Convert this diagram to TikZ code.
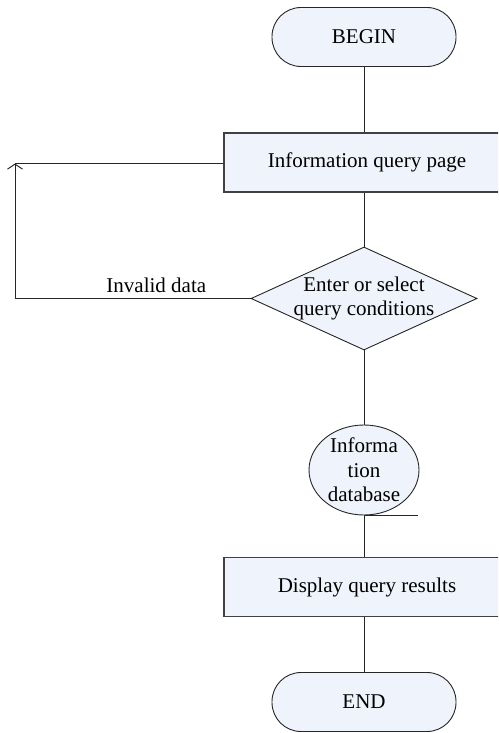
\documentclass[tikz,border=0pt]{standalone}
\usepackage{fontspec}
\setmainfont{Liberation Serif}
\usetikzlibrary{shapes.geometric,arrows.meta}
\definecolor{boxblue}{RGB}{239,243,251}

\begin{document}
\begin{tikzpicture}[x=1pt, y=-1pt,
  every node/.style={font=\fontsize{21}{24.5}\selectfont},
  flowline/.style={draw=black!85, line width=1pt},
  terminal/.style={draw=black!85, fill=boxblue, line width=0.9pt, rectangle, rounded corners=29pt, minimum width=184pt, minimum height=59pt},
  process/.style={draw=black!75, fill=boxblue, line width=1.2pt, rectangle, minimum width=286pt, minimum height=59pt},
  decision/.style={draw=black!85, fill=boxblue, line width=0.9pt, diamond, inner sep=0pt, minimum width=226pt, minimum height=103pt},
  store/.style={draw=black!85, fill=boxblue, line width=0.9pt, ellipse, inner sep=0pt, minimum width=110pt, minimum height=90pt}]
\clip (0,0) rectangle (498,733);

% Flow chart nodes
\node[terminal] (begin) at (364,37) {BEGIN};
\node[process] (info) at (367,162.5) {Information query page};
\node[decision] (check) at (364,298.5) {};
\node[align=center] (checktext) at (check) {Enter or select\\query conditions};
\node[store] (db) at (364,470) {};
\node[align=center] (dbtext) at (db) {Informa\\tion\\database};
\node[process] (show) at (367,587) {Display query results};
\node[terminal] (end) at (364,702) {END};

% Connectors
\draw[flowline] (begin.south) -- (begin.south |- info.north);
\draw[flowline] (info.south -| check.north) -- (check.north);
\draw[flowline] (check.south) -- (db.north);
\draw[flowline] (db.south) -- (show.north -| db.south);
\draw[flowline] (db.south) -- ++(54,0);
\draw[flowline] (show.south -| end.north) -- (end.north);

% Invalid data loops back
\coordinate (back) at (15,163.5);
\draw[flowline, -{Straight Barb[length=5pt, width=15pt]}] (check.west) -| node[pos=0.2, above, inner sep=5pt] {Invalid data} (back);
\draw[flowline] (back) -- (back -| info.west);
\end{tikzpicture}
\end{document}
